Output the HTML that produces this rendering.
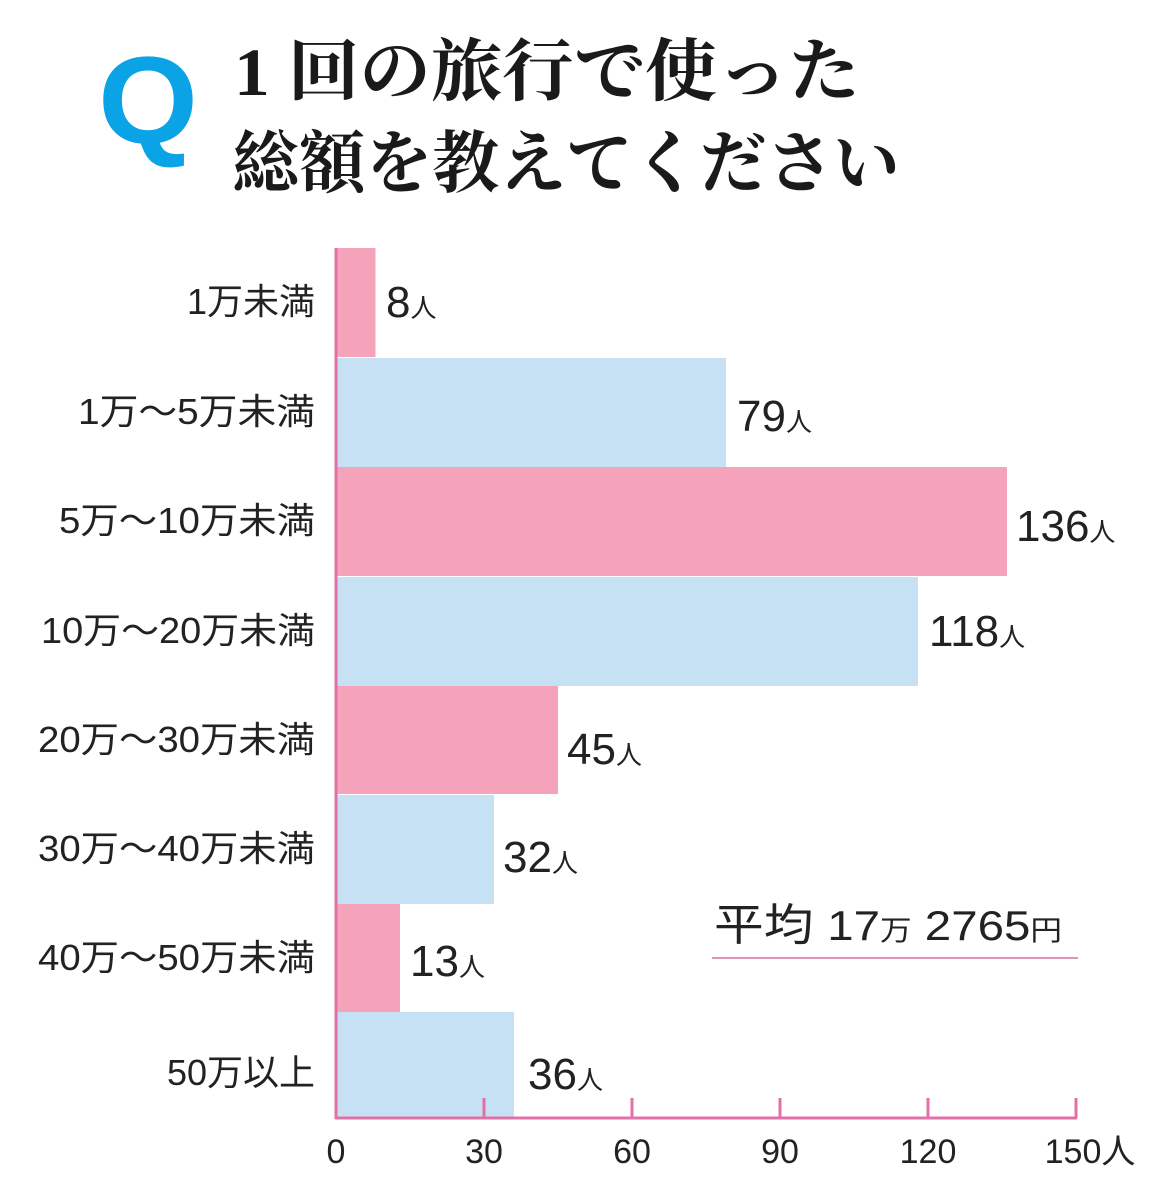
<!DOCTYPE html>
<html><head><meta charset="utf-8"><style>body{margin:0;background:#fff}svg{display:block}</style></head><body>
<svg width="1170" height="1200" viewBox="0 0 1170 1200" xmlns="http://www.w3.org/2000/svg">
<text x="98" y="143" font-family="Liberation Sans, sans-serif" font-weight="bold" font-size="124" fill="#0aa3e6" textLength="100" lengthAdjust="spacingAndGlyphs">Q</text>
<g font-family="Liberation Serif, 'Noto Serif CJK SC', serif" font-weight="bold" font-size="68" fill="#1a1a1a">
<text x="234" y="95" textLength="626" lengthAdjust="spacingAndGlyphs">1 回の旅行で使った</text>
<text x="232" y="187" textLength="668" lengthAdjust="spacingAndGlyphs">総額を教えてください</text>
</g>
<g fill="#f5a3bb">
<rect x="336" y="248" width="39.5" height="109"/>
<rect x="336" y="467" width="671" height="109"/>
<rect x="336" y="686" width="222" height="108"/>
<rect x="336" y="904" width="64" height="108"/>
</g>
<g fill="#c7e1f4">
<rect x="336" y="358" width="390" height="109"/>
<rect x="336" y="577" width="582" height="109"/>
<rect x="336" y="795" width="158" height="109"/>
<rect x="336" y="1012" width="178" height="106"/>
</g>
<g stroke="#e070a5" stroke-width="3">
<line x1="336" y1="248" x2="336" y2="1119"/>
<line x1="335" y1="1118" x2="1077" y2="1118"/>
<line x1="484" y1="1098" x2="484" y2="1118"/>
<line x1="632" y1="1098" x2="632" y2="1118"/>
<line x1="780" y1="1098" x2="780" y2="1118"/>
<line x1="928" y1="1098" x2="928" y2="1118"/>
<line x1="1076" y1="1098" x2="1076" y2="1118"/>
</g>
<line x1="712" y1="958" x2="1078" y2="958" stroke="#d070a0" stroke-width="1.5"/>
<g font-family="Liberation Sans, 'Noto Sans CJK JP', sans-serif" font-size="36" fill="#222" text-anchor="end">
<text x="315" y="314">1万未満</text>
<text x="315" y="424" textLength="237" lengthAdjust="spacingAndGlyphs">1万～5万未満</text>
<text x="315" y="533" textLength="256" lengthAdjust="spacingAndGlyphs">5万～10万未満</text>
<text x="315" y="643" textLength="274" lengthAdjust="spacingAndGlyphs">10万～20万未満</text>
<text x="315" y="752" textLength="277" lengthAdjust="spacingAndGlyphs">20万～30万未満</text>
<text x="315" y="861" textLength="277" lengthAdjust="spacingAndGlyphs">30万～40万未満</text>
<text x="315" y="970" textLength="277" lengthAdjust="spacingAndGlyphs">40万～50万未満</text>
<text x="315" y="1085">50万以上</text>
</g>
<g font-family="Liberation Sans, 'Noto Sans CJK JP', sans-serif" font-size="44" fill="#222">
<text x="386" y="317">8<tspan font-size="26">人</tspan></text>
<text x="737" y="431">79<tspan font-size="26">人</tspan></text>
<text x="1016" y="541">136<tspan font-size="26">人</tspan></text>
<text x="929" y="646">118<tspan font-size="26">人</tspan></text>
<text x="567" y="764">45<tspan font-size="26">人</tspan></text>
<text x="503" y="872">32<tspan font-size="26">人</tspan></text>
<text x="410" y="976">13<tspan font-size="26">人</tspan></text>
<text x="528" y="1089">36<tspan font-size="26">人</tspan></text>
<text x="714" y="940" font-size="44" textLength="348" lengthAdjust="spacingAndGlyphs">平均 <tspan font-size="42">17</tspan><tspan font-size="28">万</tspan><tspan font-size="42"> 2765</tspan><tspan font-size="28">円</tspan></text>
</g>
<g font-family="Liberation Sans, 'Noto Sans CJK JP', sans-serif" font-size="34" fill="#222" text-anchor="middle">
<text x="336" y="1163">0</text>
<text x="484" y="1163">30</text>
<text x="632" y="1163">60</text>
<text x="780" y="1163">90</text>
<text x="928" y="1163">120</text>
<text x="1090" y="1163">150人</text>
</g>
</svg>
</body></html>
